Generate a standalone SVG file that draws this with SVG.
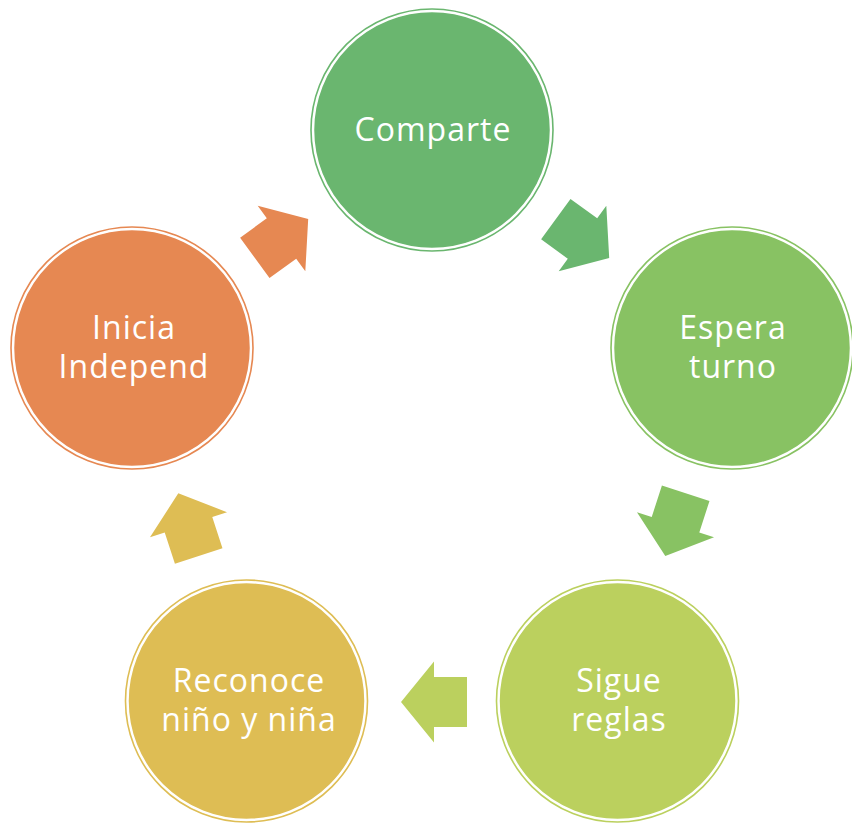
<svg xmlns="http://www.w3.org/2000/svg" width="852" height="824" viewBox="0 0 852 824">
<defs>
<style>
.ring{fill:none;stroke-width:1.6}
.fill{stroke:#ffffff;stroke-width:1.5}
.lbl{font-family:"Open Sans","Liberation Sans",sans-serif;font-size:32px;fill:#ffffff;text-anchor:middle;letter-spacing:1px}
</style>
<path id="arr" d="M-33,-25 H0 V-40.5 L33,0 L0,40.5 V25 H-33 Z"/>
</defs>
<rect width="852" height="824" fill="#ffffff"/>
<g id="connectors">
<use href="#arr" fill="#6AB66F" transform="translate(582.5,238.5) rotate(36)"/>
<use href="#arr" fill="#88C263" transform="translate(675.5,524.7) rotate(108)"/>
<use href="#arr" fill="#BBD05E" transform="translate(434,702) rotate(180)"/>
<use href="#arr" fill="#DEBD54" transform="translate(188.5,524.7) rotate(252)"/>
<use href="#arr" fill="#E68852" transform="translate(281.5,238.5) rotate(324)"/>
</g>
<g id="comparte">
<circle cx="432" cy="130" r="121" class="ring" stroke="#6AB66F"/>
<circle cx="432" cy="130" r="118.5" class="fill" fill="#6AB66F"/>
<text x="433" y="141" class="lbl">Comparte</text>
</g>
<g id="espera">
<circle cx="732" cy="348" r="121" class="ring" stroke="#88C263"/>
<circle cx="732" cy="348" r="118.5" class="fill" fill="#88C263"/>
<text x="733" y="339" class="lbl">Espera</text>
<text x="733" y="378" class="lbl">turno</text>
</g>
<g id="sigue">
<circle cx="617.5" cy="701" r="121" class="ring" stroke="#BBD05E"/>
<circle cx="617.5" cy="701" r="118.5" class="fill" fill="#BBD05E"/>
<text x="619" y="692" class="lbl">Sigue</text>
<text x="619" y="731" class="lbl">reglas</text>
</g>
<g id="reconoce">
<circle cx="246.5" cy="701" r="121" class="ring" stroke="#DEBD54"/>
<circle cx="246.5" cy="701" r="118.5" class="fill" fill="#DEBD54"/>
<text x="249" y="692" class="lbl">Reconoce</text>
<text x="249" y="731" class="lbl">niño y niña</text>
</g>
<g id="inicia">
<circle cx="132" cy="348" r="121" class="ring" stroke="#E68852"/>
<circle cx="132" cy="348" r="118.5" class="fill" fill="#E68852"/>
<text x="134" y="339" class="lbl">Inicia</text>
<text x="134" y="378" class="lbl">Independ</text>
</g>
</svg>
